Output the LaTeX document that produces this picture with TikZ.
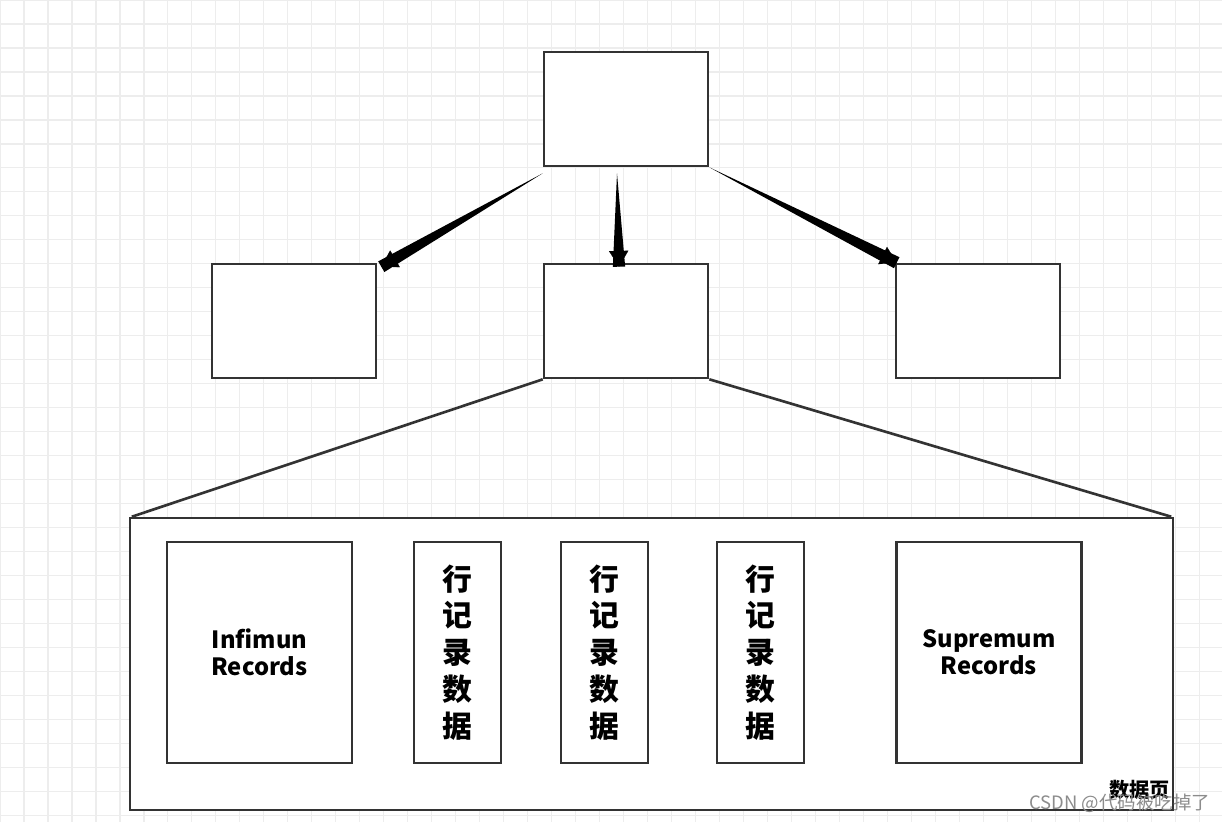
\documentclass[tikz,border=0pt]{standalone}
\usepackage{fontspec}
\setmainfont{Noto Sans CJK SC}
\usetikzlibrary{positioning, calc, arrows.meta}
\tikzstyle{block} = [rectangle, draw=black!80, line width=1.5pt, fill=white, inner sep=0pt]
\tikzstyle{rowrec} = [block, minimum width=1.74cm, minimum height=4.42cm, font=\bfseries\fontsize{17}{21}\selectfont, align=center]
\tikzstyle{rec} = [block, minimum width=3.7cm, minimum height=4.42cm, font=\bfseries\fontsize{13.5}{15.5}\selectfont, align=center]
\tikzstyle{page} = [block, minimum width=3.28cm, minimum height=2.28cm]
\tikzstyle{wedge} = [fill=black]
\tikzstyle{tip} = [-{Triangle[length=9pt, width=11pt]}, line width=0.1pt]
\newcommand{\wedgearrow}[2]{%
  \fill[wedge] (#1) -- ($(#2)!3.5pt!90:(#1)$) -- ($(#2)!3.5pt!-90:(#1)$) -- cycle;
  \draw[tip] ($(#2)!9pt!(#1)$) -- (#2);}
\begin{document}
\begin{tikzpicture}[x=0.02cm, y=-0.02cm]
    \useasboundingbox (0,0) rectangle (1222,822);
    \fill[white] (0,0) rectangle (1222,822);
    \draw[black!7, line width=0.6pt, step=0.48cm] (0,0) grid (1222,822);

        % Nodes
        \node (root) [page] at (626,109) {};
        \node (left) [page] at (294,321) {};
        \node (mid) [page] at (626,321) {};
        \node (right) [page] at (978,321) {};
        \node (datapage) [block, minimum width=20.86cm, minimum height=5.84cm] at (651.5,664) {};
        \node (infimum) [rec] at (259.5,652.5) {Infimun\\Records};
        \node (row1) [rowrec] at (457.5,652.5) {行\\记\\录\\数\\据};
        \node (row2) [rowrec] at (604.5,652.5) {行\\记\\录\\数\\据};
        \node (row3) [rowrec] at (760.5,652.5) {行\\记\\录\\数\\据};
        \node (supremum) [rec] at (989,652.5) {Supremum\\Records};
        \node (pagelabel) [font=\bfseries\fontsize{11.5}{13}\selectfont, anchor=south east, inner sep=1pt] at (1172,802) {数据页};
        \node (mark) [font=\fontsize{10.5}{12}\selectfont, text=black!45, anchor=south east, inner sep=1pt] at (1212,815) {CSDN @代码被吃掉了};

        % Arrows
        \coordinate (a1) at ($(root.south west)+(0,6)$);
        \coordinate (a2) at ($(root.south)+(-9,6)$);
        \coordinate (a3) at (root.south east);
        \coordinate (b1) at ($(left.north east)+(4,4)$);
        \coordinate (b2) at ($(mid.north)+(-7,4)$);
        \coordinate (b3) at ($(right.north west)+(2,0)$);
        \wedgearrow{a1}{b1}
        \wedgearrow{a2}{b2}
        \wedgearrow{a3}{b3}
        \draw[black!80, line width=1.5pt] (mid.south west) -- ($(datapage.north west)+(3,0)$);
        \draw[black!80, line width=1.5pt] (mid.south east) -- ($(datapage.north east)+(-3,0)$);

    \end{tikzpicture}
\end{document}
